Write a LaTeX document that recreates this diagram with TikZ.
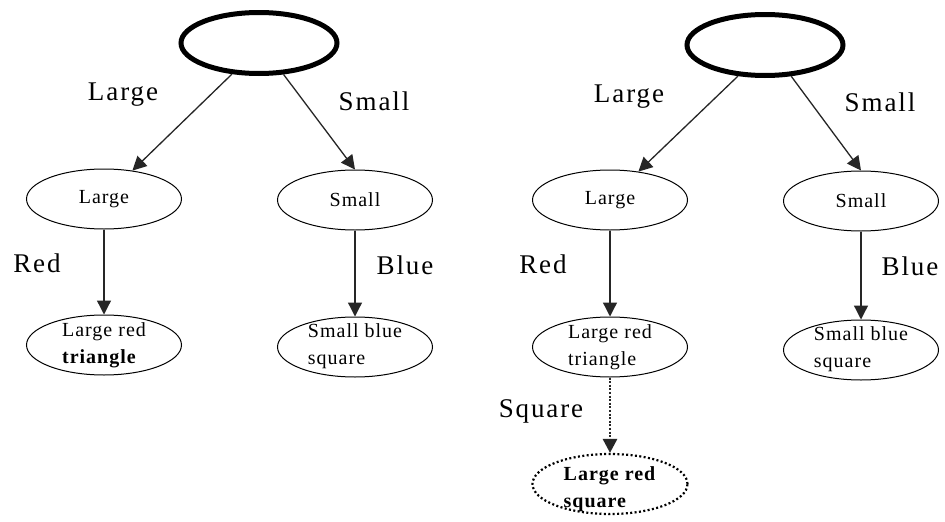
\documentclass[tikz,border=0pt]{standalone}
\usepackage{fontspec}
\setmainfont{Liberation Serif}
\newfontfamily\edgefont[LetterSpace=7]{Liberation Serif}
\newfontfamily\nodefont[LetterSpace=5]{Liberation Serif}
\usetikzlibrary{shapes.geometric,arrows.meta,calc}
\begin{document}
\begin{tikzpicture}[x=1pt,y=-1pt,
  oval/.style={ellipse, draw, line width=1pt, minimum width=155pt, minimum height=60pt, inner sep=0pt},
  rootoval/.style={ellipse, draw, line width=5pt, minimum width=156pt, minimum height=61pt, inner sep=0pt},
  dotoval/.style={oval, line width=2.2pt, dash pattern=on 2pt off 2.4pt},
  ntext/.style={font=\nodefont\fontsize{20}{27}\selectfont, align=left, inner sep=0pt},
  elabel/.style={font=\edgefont\fontsize{27}{30}\selectfont, inner sep=0pt},
  arr/.style={-{Triangle[length=14pt,width=14pt]}, line width=1.3pt, draw=black!85},
  dotarr/.style={arr, line width=2.8pt, dash pattern=on 2pt off 1.6pt}]

\fill[white] (0,0) rectangle (945,522);

% ---------- first tree ----------
\node[rootoval] (ra) at (259,43) {};
\node[oval] (la) at (104,199) {};
\node[oval] (sa) at (355,200) {};
\node[oval] (lta) at (104,345) {};
\node[oval] (sba) at (355,347) {};

\node[ntext] (lat) at (la) {Large};
\node[ntext] (sat) at (sa) {Small};
\node[ntext] (ltat) at (lta) {Large red\\\textbf{triangle}};
\node[ntext] (sbat) at ($(sba)+(0,-1)$) {Small blue\\square};

\draw[arr] (ra.229) -- (la.45);
\draw[arr] (ra.308) -- (sa.north);
\draw[arr] (la.south) -- (lta.north);
\draw[arr] (sa.south) -- (sba.north);

\node[elabel] (ea1) at (123,95) {Large};
\node[elabel] (ea2) at (374,101) {Small};
\node[elabel] (ea3) at (37,263) {Red};
\node[elabel] (ea4) at (405,265) {Blue};

% ---------- second tree ----------
\node[rootoval] (rb) at (765,45) {};
\node[oval] (lb) at (610,200) {};
\node[oval] (sb) at (861,201) {};
\node[oval] (ltb) at (610,347) {};
\node[oval] (sbb) at (861,350) {};
\node[dotoval] (lsb) at (610,484) {};

\node[ntext] (lbt) at (lb) {Large};
\node[ntext] (sbt) at (sb) {Small};
\node[ntext] (ltbt) at (ltb) {Large red\\triangle};
\node[ntext] (sbbt) at ($(sbb)+(0,-1)$) {Small blue\\square};
\node[ntext] (lsbt) at ($(lsb)+(0,5)$) {\textbf{Large red}\\\textbf{square}};

\draw[arr] (rb.229) -- (lb.45);
\draw[arr] (rb.310) -- (sb.north);
\draw[arr] (lb.south) -- (ltb.north);
\draw[arr] (sb.south) -- (sbb.north);
\draw[dotarr] (ltb.south) -- (lsb.north);

\node[elabel] (eb1) at (629,97) {Large};
\node[elabel] (eb2) at (880,102) {Small};
\node[elabel] (eb3) at (543,264) {Red};
\node[elabel] (eb4) at (910,266) {Blue};
\node[elabel] (eb5) at (541,411) {Square};
\end{tikzpicture}
\end{document}
